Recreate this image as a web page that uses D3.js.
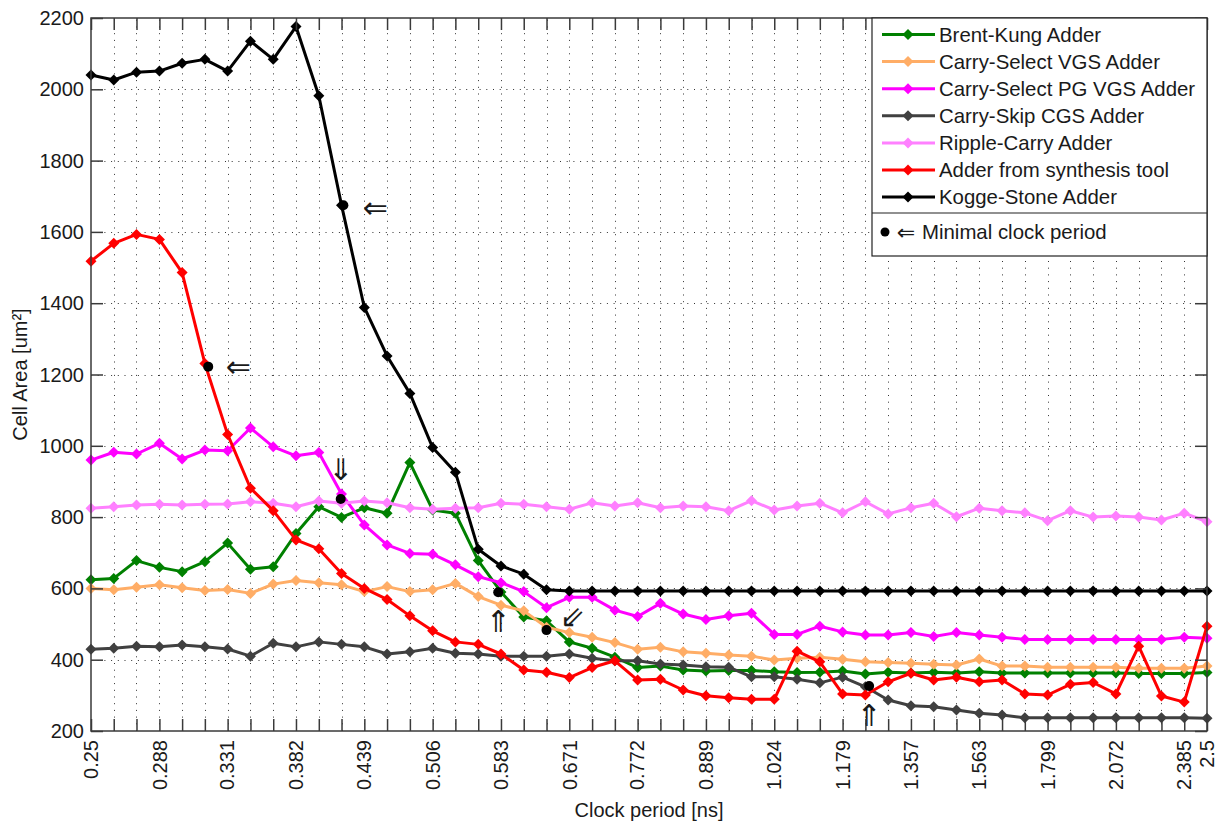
<!DOCTYPE html>
<html>
<head>
<meta charset="utf-8">
<script src="https://cdn.jsdelivr.net/npm/d3@7"></script>
<style>
  body { margin: 0; background: #fff; }
  svg { display: block; }
  text { font-family: "Liberation Sans", Arial, Helvetica, sans-serif; fill: #1a1a1a; }
</style>
</head>
<body>
<svg id="chart" width="1222" height="825"></svg>
<script>
// Clock periods swept (ns), logarithmically spaced
const periods = [
  0.2500, 0.2620, 0.2746, 0.2879, 0.3017, 0.3162, 0.3314, 0.3474, 0.3641, 0.3816,
  0.4000, 0.4192, 0.4394, 0.4605, 0.4827, 0.5059, 0.5302, 0.5558, 0.5825, 0.6105,
  0.6399, 0.6707, 0.7030, 0.7368, 0.7722, 0.8094, 0.8483, 0.8891, 0.9319, 0.9768,
  1.0237, 1.0730, 1.1246, 1.1787, 1.2355, 1.2949, 1.3572, 1.4225, 1.4909, 1.5627,
  1.6379, 1.7167, 1.7992, 1.8858, 1.9765, 2.0716, 2.1713, 2.2758, 2.3853, 2.5000
];

// Labelled ticks on the period axis
const tickLabels = ["0.25", "0.288", "0.331", "0.382", "0.439", "0.506", "0.583", "0.671",
  "0.772", "0.889", "1.024", "1.179", "1.357", "1.563", "1.799", "2.072", "2.385", "2.5"];
const areaTicks = [200, 400, 600, 800, 1000, 1200, 1400, 1600, 1800, 2000, 2200];

// Cell area (um^2) per adder architecture
const brentKung = [624, 628, 678, 659, 647, 675, 727, 654, 661, 754,
  829, 799, 826, 811, 953, 820, 811, 678, 590, 520,
  509, 450, 432, 407, 378, 382, 371, 368, 370, 370,
  366, 364, 365, 368, 360, 365, 363, 365, 363, 366,
  363, 363, 363, 363, 363, 363, 361, 361, 361, 364];
const carrySelectVGS = [600, 596, 603, 610, 602, 594, 597, 586, 612, 622,
  616, 610, 591, 605, 591, 596, 614, 577, 553, 537,
  491, 476, 463, 448, 429, 435, 422, 418, 413, 410,
  399, 404, 407, 401, 394, 392, 390, 387, 385, 402,
  382, 382, 379, 379, 379, 379, 376, 376, 376, 382];
const carrySelectPGVGS = [960, 982, 977, 1007, 963, 988, 986, 1050, 997, 972,
  981, 865, 778, 722, 698, 696, 666, 633, 616, 591,
  546, 575, 575, 539, 521, 558, 528, 513, 523, 530,
  471, 471, 494, 478, 469, 469, 476, 465, 476, 469,
  463, 457, 457, 457, 457, 457, 457, 457, 463, 460];
const carrySkipCGS = [429, 432, 438, 436, 441, 436, 430, 410, 446, 436,
  450, 443, 436, 416, 422, 432, 418, 416, 410, 410,
  410, 416, 404, 397, 397, 388, 385, 380, 379, 352,
  352, 345, 335, 351, 324, 287, 271, 268, 259, 250,
  245, 237, 237, 237, 237, 237, 237, 237, 237, 236];
const rippleCarry = [825, 829, 834, 836, 834, 836, 837, 843, 839, 829,
  845, 839, 845, 840, 826, 822, 825, 826, 839, 836,
  829, 822, 840, 831, 840, 826, 831, 829, 818, 846,
  820, 831, 839, 812, 843, 809, 826, 839, 801, 825,
  818, 812, 790, 818, 800, 803, 800, 792, 811, 787];
const synthesisTool = [1518, 1568, 1593, 1579, 1486, 1231, 1032, 881, 818, 736,
  711, 642, 600, 569, 523, 481, 450, 443, 416, 371,
  365, 350, 378, 397, 343, 345, 315, 299, 293, 289,
  289, 424, 394, 304, 301, 338, 362, 343, 351, 338,
  343, 304, 301, 331, 336, 304, 438, 298, 281, 494];
const koggeStone = [2040, 2026, 2048, 2051, 2073, 2084, 2051, 2135, 2084, 2176,
  1982, 1675, 1388, 1252, 1147, 995, 926, 710, 663, 640,
  596, 593, 593, 593, 593, 593, 593, 593, 593, 593,
  593, 593, 593, 593, 593, 593, 593, 593, 593, 593,
  593, 593, 593, 593, 593, 593, 593, 593, 593, 593];

const seriesNames = ["Brent-Kung Adder", "Carry-Select VGS Adder", "Carry-Select PG VGS Adder",
  "Carry-Skip CGS Adder", "Ripple-Carry Adder", "Adder from synthesis tool", "Kogge-Stone Adder"];
const seriesValues = [brentKung, carrySelectVGS, carrySelectPGVGS, carrySkipCGS,
  rippleCarry, synthesisTool, koggeStone];
const seriesColors = ["#008000", "#ffad66", "#ff00ff", "#404040", "#ff80ff", "#ff0000", "#000000"];

// Minimal clock period reached by each architecture: period (ns), area (um^2)
const minPeriod = [0.4208, 0.3184, 0.4185, 0.5792, 0.6399, 1.2450];
const minArea   = [1675, 1222, 851, 589, 483, 326];
const minArrow  = ["\u21D0", "\u21D0", "\u21D3", "\u21D1", "\u21D9", "\u21D1"];

const svg = d3.select("#chart");
const W = 1222, H = 825;
const plot = { left: 91, right: 1207, top: 18, bottom: 731 };

const x = d3.scaleLog().domain([0.25, 2.5]).range([plot.left, plot.right]);
const y = d3.scaleLinear().domain([200, 2200]).range([plot.bottom, plot.top]);

svg.append("rect").attr("width", W).attr("height", H).attr("fill", "#fff");

// Dotted grid
const grid = svg.append("g").attr("stroke", "#333").attr("stroke-width", 1)
  .attr("stroke-dasharray", "1,5.7").attr("fill", "none");
grid.selectAll("line.v").data(periods.slice(1, -1)).join("line")
  .attr("x1", d => Math.round(x(d)) + 0.5).attr("x2", d => Math.round(x(d)) + 0.5)
  .attr("y1", plot.bottom).attr("y2", plot.top);
grid.selectAll("line.h").data(areaTicks.slice(1, -1)).join("line")
  .attr("y1", d => Math.round(y(d)) + 0.5).attr("y2", d => Math.round(y(d)) + 0.5)
  .attr("x1", plot.left).attr("x2", plot.right);

// Series lines and diamond markers
const line = d3.line().x((d, i) => x(periods[i])).y(d => y(d));
const diamond = "M0,-5.5L5.5,0L0,5.5L-5.5,0Z";
seriesValues.forEach((vals, s) => {
  const g = svg.append("g");
  g.append("path").datum(vals).attr("d", line)
    .attr("fill", "none").attr("stroke", seriesColors[s])
    .attr("stroke-width", 3).attr("stroke-linejoin", "round");
  g.selectAll("path.m").data(vals).join("path")
    .attr("class", "m")
    .attr("d", diamond)
    .attr("transform", (d, i) => `translate(${x(periods[i])},${y(d)})`)
    .attr("fill", seriesColors[s]);
});

// Minimal clock period markers and arrows
const arrowOffset = [[32, 2], [30, 0], [0, -29], [0, 29], [26, -14], [0, 29]];
const mins = svg.append("g");
minPeriod.forEach((p, i) => {
  const cx = x(p), cy = y(minArea[i]);
  mins.append("circle").attr("cx", cx).attr("cy", cy).attr("r", 5).attr("fill", "#000");
  mins.append("text").attr("x", cx + arrowOffset[i][0]).attr("y", cy + arrowOffset[i][1])
    .attr("text-anchor", "middle").attr("dominant-baseline", "central")
    .style("font-family", "'DejaVu Sans', sans-serif").style("font-size", "30px")
    .attr("fill", "#000").text(minArrow[i]);
});

// Axes frame
const axisColor = "#3a3a3a";
svg.append("rect").attr("x", plot.left).attr("y", plot.top)
  .attr("width", plot.right - plot.left).attr("height", plot.bottom - plot.top)
  .attr("fill", "none").attr("stroke", axisColor).attr("stroke-width", 1.5);

const xAxisB = d3.axisBottom(x).tickValues(periods).tickSize(-12).tickFormat("");
const xAxisT = d3.axisTop(x).tickValues(periods).tickSize(-12).tickFormat("");
const yAxisL = d3.axisLeft(y).tickValues(areaTicks).tickSize(-12).tickFormat("");
const yAxisR = d3.axisRight(y).tickValues(areaTicks).tickSize(-12).tickFormat("");
[[xAxisB, `translate(0,${plot.bottom})`], [xAxisT, `translate(0,${plot.top})`],
 [yAxisL, `translate(${plot.left},0)`], [yAxisR, `translate(${plot.right},0)`]].forEach(([ax, t]) => {
  const g = svg.append("g").attr("transform", t).call(ax);
  g.select(".domain").remove();
  g.selectAll(".tick line").attr("stroke", axisColor).attr("stroke-width", 1.5);
});

// Tick labels
svg.append("g").selectAll("text").data(tickLabels).join("text")
  .attr("transform", d => `translate(${x(parseFloat(d))},${plot.bottom + 9}) rotate(-90)`)
  .attr("text-anchor", "end").attr("dominant-baseline", "central")
  .style("font-size", "20px").text(d => d);
svg.append("g").selectAll("text").data(areaTicks).join("text")
  .attr("x", plot.left - 7).attr("y", d => y(d))
  .attr("text-anchor", "end").attr("dominant-baseline", "central")
  .style("font-size", "20px").text(d => d);

// Axis titles
svg.append("text").attr("x", (plot.left + plot.right) / 2).attr("y", 817)
  .attr("text-anchor", "middle").style("font-size", "20px").text("Clock period [ns]");
svg.append("text").attr("transform", `translate(27,${(plot.top + plot.bottom) / 2}) rotate(-90)`)
  .attr("text-anchor", "middle").style("font-size", "20px").text("Cell Area [um\u00B2]");

// Legend
const leg = svg.append("g");
const lx0 = 872, lx1 = plot.right, ly0 = plot.top, ly1 = 213, ly2 = 256;
leg.append("rect").attr("x", lx0).attr("y", ly0).attr("width", lx1 - lx0).attr("height", ly2 - ly0)
  .attr("fill", "#fff").attr("stroke", "#222").attr("stroke-width", 1.2);
leg.append("line").attr("x1", lx0).attr("x2", lx1).attr("y1", ly1).attr("y2", ly1)
  .attr("stroke", "#222").attr("stroke-width", 1.2);
seriesNames.forEach((name, i) => {
  const yy = 34.5 + i * 27.1;
  leg.append("line").attr("x1", 882).attr("x2", 935).attr("y1", yy).attr("y2", yy)
    .attr("stroke", seriesColors[i]).attr("stroke-width", 3);
  leg.append("path").attr("d", diamond).attr("transform", `translate(908,${yy})`)
    .attr("fill", seriesColors[i]);
  leg.append("text").attr("x", 939).attr("y", yy).attr("dominant-baseline", "central")
    .style("font-size", "20.4px").text(name);
});
leg.append("circle").attr("cx", 885).attr("cy", 232).attr("r", 4.5).attr("fill", "#000");
leg.append("text").attr("x", 906).attr("y", 232).attr("text-anchor", "middle")
  .attr("dominant-baseline", "central")
  .style("font-family", "'DejaVu Sans', sans-serif").style("font-size", "22px").text("\u21D0");
leg.append("text").attr("x", 922).attr("y", 232).attr("dominant-baseline", "central")
  .style("font-size", "20.4px").text("Minimal clock period");
</script>
</body>
</html>
